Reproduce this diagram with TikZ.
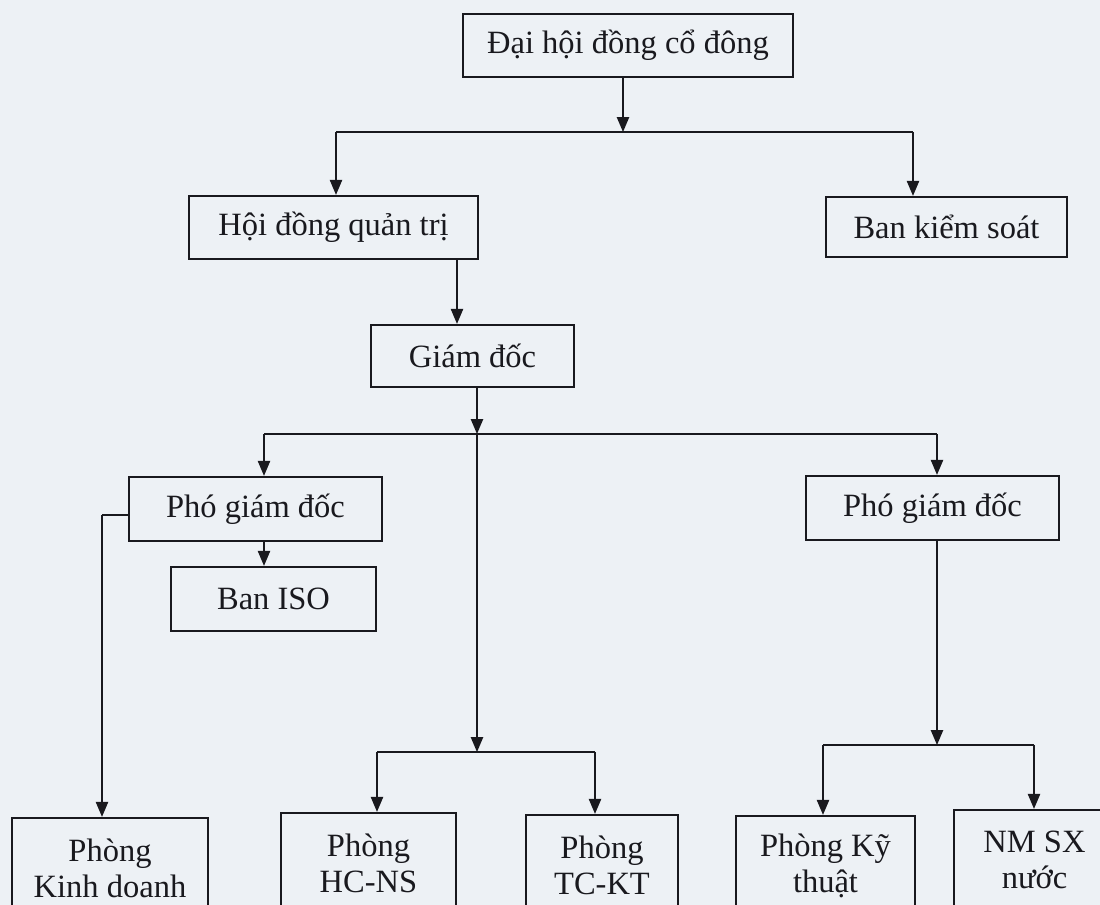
\documentclass[tikz,border=0pt]{standalone}
\usepackage{fontspec}
\setmainfont{Liberation Serif}
\usetikzlibrary{arrows.meta}
\definecolor{paper}{RGB}{237,241,245}
\definecolor{ink}{RGB}{25,25,30}
\begin{document}
\begin{tikzpicture}[x=0.02cm,y=-0.02cm,
  box/.style={draw=ink,line width=1.3pt,inner sep=0pt,text=ink,align=center,
    font=\fontsize{18.5}{20.5}\selectfont},
  link/.style={draw=ink,line width=0.8pt},
  arr/.style={link,-{Triangle[length=8.5pt,width=7pt]}}]
\fill[paper] (0,0) rectangle (1100,905);
\useasboundingbox (0,0) rectangle (1100,905);
% boxes
\node[box,minimum width=6.6cm,minimum height=1.26cm] (dh) at (628,45.5) {Đại hội đồng cổ đông};
\node[box,minimum width=5.78cm,minimum height=1.26cm] (hdqt) at (333.5,227.5) {Hội đồng quản trị};
\node[box,minimum width=4.82cm,minimum height=1.2cm] (bks) at (946.5,227) {Ban kiểm soát};
\node[box,minimum width=4.06cm,minimum height=1.24cm] (gd) at (472.5,356) {Giám đốc};
\node[box,minimum width=5.06cm,minimum height=1.28cm] (pgdl) at (255.5,509) {Phó giám đốc};
\node[box,minimum width=5.06cm,minimum height=1.28cm] (pgdr) at (932.5,508) {Phó giám đốc};
\node[box,minimum width=4.1cm,minimum height=1.28cm] (iso) at (273.5,599) {Ban ISO};
\node[box,minimum width=3.92cm,minimum height=2.0cm] (kd) at (110,868) {Phòng\\Kinh doanh};
\node[box,minimum width=3.5cm,minimum height=2.0cm] (hc) at (368.5,863) {Phòng\\HC-NS};
\node[box,minimum width=3.04cm,minimum height=2.0cm] (tc) at (602,865) {Phòng\\TC-KT};
\node[box,minimum width=3.58cm,minimum height=2.0cm] (kt) at (825.5,866) {Phòng Kỹ\\thuật};
\node[box,minimum width=3.22cm,minimum height=2.0cm] (nm) at (1034.5,860) {NM SX\\nước};
% junction points
\coordinate (j1) at (623,132);
\coordinate (j1l) at (336,132);
\coordinate (j1r) at (913,132);
\coordinate (j2) at (477,434);
\coordinate (j2l) at (264,434);
\coordinate (j2r) at (937,434);
\coordinate (j3) at (477,752);
\coordinate (j3l) at (377,752);
\coordinate (j3r) at (595,752);
\coordinate (j4) at (937,745);
\coordinate (j4l) at (823,745);
\coordinate (j4r) at (1034,745);
\coordinate (kdc) at (102,515);
% connectors
\draw[arr] (dh.south -| j1) -- (j1);
\draw[link] (j1l) -- (j1r);
\draw[arr] (j1l) -- (j1l |- hdqt.north);
\draw[arr] (j1r) -- (j1r |- bks.north);
\draw[arr] (hdqt.south -| 457,0) -- (gd.north -| 457,0);
\draw[arr] (gd.south -| j2) -- (j2);
\draw[link] (j2l) -- (j2r);
\draw[arr] (j2l) -- (j2l |- pgdl.north);
\draw[arr] (j2r) -- (j2r |- pgdr.north);
\draw[arr] (j2) -- (j3);
\draw[link] (j3l) -- (j3r);
\draw[arr] (j3l) -- (j3l |- hc.north);
\draw[arr] (j3r) -- (j3r |- tc.north);
\draw[arr] (pgdl.south -| j2l) -- (iso.north -| j2l);
\draw[link] (pgdl.west |- kdc) -- (kdc);
\draw[arr] (kdc) -- (kdc |- kd.north);
\draw[arr] (pgdr.south -| j4) -- (j4);
\draw[link] (j4l) -- (j4r);
\draw[arr] (j4l) -- (j4l |- kt.north);
\draw[arr] (j4r) -- (j4r |- nm.north);
\end{tikzpicture}
\end{document}
